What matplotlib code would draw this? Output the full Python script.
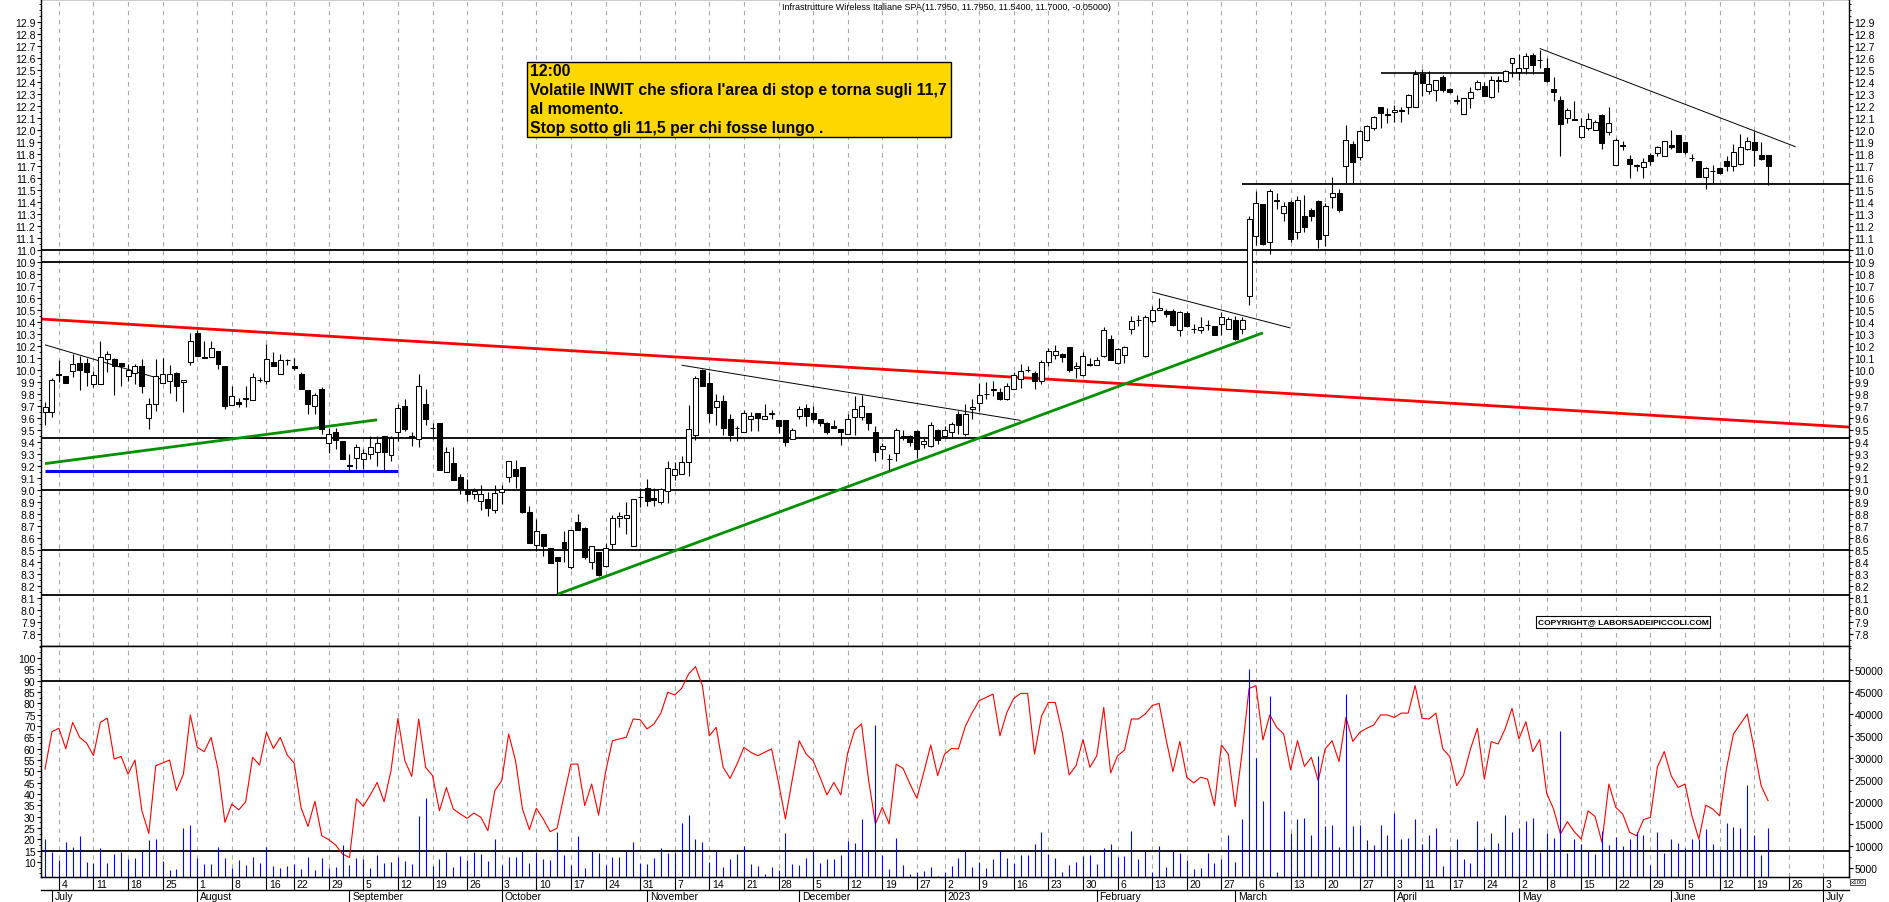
import matplotlib
matplotlib.use('Agg')
import matplotlib.pyplot as plt
from matplotlib import font_manager
from matplotlib.lines import Line2D
from matplotlib.patches import Rectangle
from matplotlib.ticker import MultipleLocator, FormatStrFormatter
from matplotlib.transforms import blended_transform_factory
import numpy as np
import pandas as pd

plt.rcParams['font.family'] = ['Liberation Sans', 'DejaVu Sans']

# daily candles 30 Jun 2022 - 21 Jun 2023, one line per week
opens = [
    9.65, 9.65,
    9.965, 9.95, 9.99, 10.06, 10.06,
    9.88, 9.88, 10.09, 10.09, 10.055,
    9.95, 9.975, 10.03, 9.60, 9.72,
    9.89, 9.91, 9.975, 9.90, 10.07,
    10.31, 10.11, 10.11, 10.16, 10.03,
    9.71, 9.73, 9.76, 9.75, 9.92,
    9.91, 10.07, 9.97, 10.085,
    10.03, 9.97, 9.83, 9.70, 9.84,
    9.39, 9.48, 9.41, 9.205, 9.27,
    9.26, 9.30, 9.32, 9.45, 9.29,
    9.48, 9.70, 9.45, 9.425, 9.72,
    9.52, 9.56, 9.15, 9.225, 9.11,
    8.99, 8.97, 8.91, 8.925, 8.83,
    8.985, 9.11, 9.175, 9.19, 8.82,
    8.54, 8.63, 8.52, 8.445, 8.565,
    8.355, 8.735, 8.68, 8.40, 8.48,
    8.37, 8.55, 8.77, 8.765, 8.535,
    8.94, 9.015, 8.93, 8.90, 8.995,
    9.125, 9.135, 9.235, 9.46, 10.00,
    9.89, 9.69, 9.74, 9.59, 9.52,
    9.48, 9.59, 9.64, 9.59, 9.635,
    9.585, 9.585, 9.425, 9.62, 9.68,
    9.64, 9.59, 9.56, 9.53, 9.51,
    9.465, 9.605, 9.605, 9.645, 9.485,
    9.345, 9.255, 9.31, 9.45, 9.45,
    9.49, 9.38, 9.37, 9.50,
    9.45, 9.48, 9.63, 9.47, 9.675,
    9.725, 9.80, 9.835, 9.815, 9.76,
    9.845, 9.925, 10.00, 9.975, 9.905,
    10.07, 10.125, 10.13, 10.19, 10.015,
    9.96, 10.045, 10.045, 10.115, 10.26,
    10.06, 10.125, 10.345, 10.42, 10.115,
    10.405, 10.50, 10.495, 10.495, 10.33,
    10.475, 10.34, 10.33, 10.375, 10.365,
    10.385, 10.345, 10.415, 10.345, 10.62,
    11.12, 11.38, 11.07, 11.405, 11.31,
    11.40, 11.15, 11.28, 11.335, 11.405,
    11.125, 11.44, 11.475, 11.70, 11.88,
    11.775, 11.915, 12.015, 12.19, 12.13,
    12.15, 12.165, 12.19, 12.19,
    12.465, 12.325, 12.33, 12.445,
    12.345, 12.25, 12.135, 12.265, 12.34,
    12.37, 12.275, 12.415, 12.405, 12.555,
    12.48, 12.52, 12.625, 12.585,
    12.515, 12.34, 12.25, 12.10, 12.09,
    11.94, 12.015, 12.00, 12.125, 11.98,
    11.71, 11.875, 11.76, 11.705, 11.695,
    11.79, 11.805, 11.785, 11.875, 11.96,
    11.90, 11.77, 11.74, 11.605, 11.655,
    11.68, 11.74, 11.70, 11.715, 11.84,
    11.90, 11.79, 11.795,
]
highs = [
    9.73, 9.93,
    10.08, 9.95, 10.13, 10.12, 10.10,
    9.99, 10.24, 10.16, 10.10, 10.06,
    10.05, 10.05, 10.09, 9.77, 10.09,
    10.10, 10.04, 9.98, 9.92, 10.31,
    10.33, 10.24, 10.24, 10.16, 10.03,
    9.87, 9.77, 9.87, 9.975, 9.94,
    10.22, 10.15, 10.13, 10.09,
    10.10, 9.98, 9.83, 9.81, 9.86,
    9.52, 9.52, 9.41, 9.30, 9.38,
    9.34, 9.45, 9.45, 9.45, 9.45,
    9.72, 9.76, 9.48, 9.97, 9.84,
    9.56, 9.56, 9.36, 9.36, 9.13,
    9.09, 9.02, 9.04, 8.98, 9.04,
    9.04, 9.245, 9.25, 9.19, 8.87,
    8.76, 8.635, 8.52, 8.445, 8.66,
    8.67, 8.80, 8.69, 8.53, 8.48,
    8.56, 8.79, 8.815, 8.90, 8.925,
    9.02, 9.09, 9.02, 9.015, 9.245,
    9.23, 9.285, 9.71, 9.95, 10.01,
    9.98, 9.80, 9.795, 9.635, 9.53,
    9.67, 9.65, 9.64, 9.72, 9.67,
    9.585, 9.585, 9.515, 9.70, 9.72,
    9.70, 9.59, 9.57, 9.58, 9.51,
    9.635, 9.78, 9.79, 9.645, 9.53,
    9.39, 9.30, 9.52, 9.50, 9.46,
    9.50, 9.44, 9.57, 9.51,
    9.53, 9.57, 9.66, 9.72, 9.76,
    9.89, 9.90, 9.91, 9.85, 9.89,
    9.98, 10.05, 10.03, 9.99, 10.08,
    10.18, 10.21, 10.14, 10.19, 10.07,
    10.15, 10.10, 10.11, 10.36, 10.29,
    10.18, 10.20, 10.45, 10.46, 10.46,
    10.53, 10.60, 10.51, 10.51, 10.49,
    10.49, 10.38, 10.44, 10.42, 10.37,
    10.48, 10.44, 10.45, 10.44, 11.28,
    11.49, 11.38, 11.51, 11.475, 11.40,
    11.42, 11.45, 11.46, 11.35, 11.42,
    11.39, 11.61, 11.51, 12.04, 11.91,
    12.00, 12.04, 12.12, 12.19, 12.18,
    12.21, 12.19, 12.30, 12.50,
    12.51, 12.49, 12.42, 12.46,
    12.35, 12.29, 12.27, 12.36, 12.42,
    12.40, 12.45, 12.45, 12.50, 12.60,
    12.63, 12.64, 12.64, 12.67,
    12.60, 12.44, 12.28, 12.18, 12.24,
    12.10, 12.14, 12.08, 12.13, 12.19,
    11.93, 11.91, 11.79, 11.72, 11.77,
    11.81, 11.87, 11.91, 12.00, 11.96,
    11.90, 11.80, 11.74, 11.69, 11.71,
    11.69, 11.78, 11.88, 11.97, 11.94,
    11.99, 11.90, 11.795,
]
lows = [
    9.54, 9.61,
    9.90, 9.89, 9.94, 9.83, 9.87,
    9.86, 9.88, 9.98, 9.79, 9.87,
    9.91, 9.88, 9.81, 9.51, 9.66,
    9.89, 9.81, 9.74, 9.65, 10.04,
    10.12, 10.10, 10.11, 10.01, 9.675,
    9.71, 9.69, 9.69, 9.75, 9.90,
    9.88, 10.035, 9.97, 10.04,
    10.00, 9.84, 9.63, 9.63, 9.47,
    9.31, 9.34, 9.26, 9.15, 9.175,
    9.175, 9.26, 9.20, 9.16, 9.24,
    9.41, 9.49, 9.37, 9.36, 9.54,
    9.425, 9.17, 9.15, 9.08, 8.97,
    8.91, 8.925, 8.83, 8.78, 8.81,
    8.88, 9.07, 9.02, 8.81, 8.555,
    8.49, 8.45, 8.39, 8.13, 8.40,
    8.34, 8.67, 8.425, 8.34, 8.285,
    8.355, 8.50, 8.69, 8.635, 8.535,
    8.855, 8.865, 8.865, 8.885, 8.89,
    9.08, 9.135, 9.115, 9.42, 9.865,
    9.565, 9.54, 9.455, 9.41, 9.41,
    9.48, 9.495, 9.495, 9.59, 9.59,
    9.475, 9.37, 9.425, 9.59, 9.53,
    9.57, 9.53, 9.465, 9.515, 9.375,
    9.465, 9.455, 9.58, 9.50, 9.245,
    9.255, 9.17, 9.24, 9.42, 9.37,
    9.27, 9.35, 9.36, 9.38,
    9.43, 9.43, 9.47, 9.45, 9.59,
    9.66, 9.76, 9.78, 9.75, 9.75,
    9.84, 9.85, 9.98, 9.84, 9.88,
    10.03, 10.09, 10.07, 9.98, 9.93,
    9.95, 10.03, 10.04, 10.11, 10.08,
    10.05, 10.06, 10.30, 10.37, 10.11,
    10.39, 10.50, 10.44, 10.37, 10.28,
    10.36, 10.31, 10.31, 10.33, 10.29,
    10.29, 10.34, 10.25, 10.30, 10.54,
    11.04, 11.04, 10.97, 11.34, 11.24,
    11.07, 11.09, 11.15, 11.24, 11.02,
    11.03, 11.35, 11.32, 11.56, 11.56,
    11.75, 11.91, 12.00, 12.02, 12.06,
    12.07, 12.07, 12.13, 12.19,
    12.28, 12.30, 12.24, 12.32,
    12.31, 12.22, 12.13, 12.18, 12.33,
    12.28, 12.27, 12.32, 12.40, 12.44,
    12.42, 12.47, 12.47, 12.52,
    12.40, 12.24, 11.78, 12.06, 12.08,
    11.93, 12.00, 12.00, 11.84, 11.96,
    11.71, 11.83, 11.60, 11.66, 11.60,
    11.71, 11.78, 11.78, 11.84, 11.82,
    11.80, 11.74, 11.61, 11.51, 11.56,
    11.63, 11.66, 11.66, 11.71, 11.83,
    11.70, 11.75, 11.54,
]
closes = [
    9.69, 9.92,
    9.96, 9.89, 10.05, 10.00, 9.98,
    9.96, 10.11, 10.13, 10.03, 10.035,
    10.00, 10.03, 9.87, 9.72, 9.95,
    9.97, 9.97, 9.87, 9.92, 10.24,
    10.12, 10.10, 10.18, 10.05, 9.70,
    9.78, 9.72, 9.77, 9.94, 9.915,
    10.09, 10.035, 10.085, 10.08,
    10.02, 9.84, 9.72, 9.79, 9.51,
    9.47, 9.42, 9.26, 9.20, 9.36,
    9.31, 9.36, 9.39, 9.32, 9.43,
    9.68, 9.51, 9.43, 9.87, 9.59,
    9.515, 9.17, 9.32, 9.08, 9.01,
    8.97, 8.99, 8.97, 8.85, 8.975,
    9.01, 9.24, 9.12, 8.82, 8.555,
    8.66, 8.53, 8.39, 8.405, 8.515,
    8.67, 8.67, 8.44, 8.53, 8.29,
    8.515, 8.77, 8.78, 8.79, 8.925,
    8.94, 8.905, 8.92, 9.01, 9.185,
    9.175, 9.23, 9.51, 9.93, 9.865,
    9.64, 9.74, 9.52, 9.455, 9.515,
    9.64, 9.62, 9.60, 9.615, 9.64,
    9.535, 9.40, 9.50, 9.675, 9.615,
    9.59, 9.56, 9.485, 9.52, 9.48,
    9.59, 9.675, 9.70, 9.56, 9.32,
    9.37, 9.255, 9.50, 9.44, 9.40,
    9.34, 9.41, 9.54, 9.42,
    9.50, 9.55, 9.54, 9.63, 9.69,
    9.79, 9.80, 9.84, 9.76, 9.865,
    9.96, 9.995, 10.00, 9.905, 10.07,
    10.155, 10.16, 10.11, 10.00, 10.03,
    10.115, 10.05, 10.08, 10.33, 10.085,
    10.175, 10.195, 10.41, 10.42, 10.445,
    10.50, 10.52, 10.465, 10.375, 10.48,
    10.37, 10.34, 10.36, 10.375, 10.295,
    10.44, 10.425, 10.26, 10.415, 11.26,
    11.39, 11.05, 11.49, 11.42, 11.37,
    11.09, 11.42, 11.195, 11.28, 11.09,
    11.37, 11.475, 11.33, 11.92, 11.73,
    11.99, 12.03, 12.11, 12.14, 12.125,
    12.165, 12.16, 12.295, 12.465,
    12.39, 12.38, 12.415, 12.33,
    12.315, 12.245, 12.265, 12.32, 12.40,
    12.28, 12.415, 12.41, 12.495, 12.60,
    12.52, 12.615, 12.54, 12.58,
    12.405, 12.315, 12.05, 12.165, 12.085,
    12.03, 12.09, 12.07, 11.89, 12.055,
    11.92, 11.87, 11.72, 11.70, 11.735,
    11.74, 11.855, 11.905, 11.855, 11.82,
    11.82, 11.765, 11.61, 11.68, 11.66,
    11.64, 11.70, 11.815, 11.855, 11.905,
    11.83, 11.76, 11.70,
]

# lower panel: oscillator (left scale) and volume (right scale, x100)
oscillator = [
    51, 67.5, 69, 60, 71.6, 65, 62.5, 57, 71.6, 73.5,
    55.4, 56.6, 48.8, 55, 32.6, 22.6, 52.5, 53.7, 55, 41.5,
    48.8, 74.9, 60.6, 58.7, 65, 51, 27.5, 35.6, 33, 36.6,
    56.2, 52.8, 67.2, 60.1, 65, 57.2, 53.7, 34, 25.7, 36.8,
    21.6, 19.9, 17.5, 13.5, 12, 37.9, 34.6, 39.6, 45.1, 36.6,
    50.3, 73.4, 54.7, 47.8, 73.1, 51.8, 48.1, 32.6, 42.9, 33.4,
    31.2, 29.3, 31.6, 29.7, 23.8, 41.5, 45.9, 66.5, 54.7, 33.4,
    24.3, 33.7, 29, 23.4, 24.9, 39.3, 53.2, 53.2, 34.9, 44.4,
    30.7, 49.6, 63.5, 64.3, 65, 73.1, 72.8, 68.7, 70.9, 75.7,
    84.9, 83.7, 86.6, 92.9, 96.2, 87.8, 65.7, 69.4, 51.8, 46.9,
    53.2, 60.6, 58.4, 56.9, 58.4, 59.9, 45.1, 29, 46.6, 63.5,
    57.6, 54.7, 47.4, 39.6, 45.1, 39.6, 58.1, 68.2, 70.9, 46.6,
    26.8, 34.1, 26.8, 53.2, 51.3, 44.4, 38.1, 49.6, 61.6, 48.1,
    57.6, 60.1, 59.9, 69.9, 76, 81.2, 82.6, 84.1, 65.7, 76,
    82.2, 84.4, 84.4, 57.6, 74.3, 80.4, 80.4, 67.2, 48.4, 52.5,
    64, 51.8, 56.9, 78.2, 49.3, 56.9, 59.4, 73.1, 73.1, 75.3,
    79, 80, 64.3, 49.9, 63.2, 47.4, 44.9, 47.4, 46.6, 34.9,
    61.6, 57.6, 34.4, 58.4, 86.6, 87.8, 63.8, 74.9, 69.4, 66.5,
    50.7, 63.5, 52.2, 56.2, 45.9, 59.9, 63.5, 54.3, 73.8, 63.2,
    67.2, 69, 70.4, 74.9, 74.9, 73.8, 75.7, 75.7, 87.8, 73.4,
    73.1, 75.7, 59.9, 56.6, 43.7, 48.4, 59.9, 69, 46.6, 63.1,
    62.1, 68.7, 77.8, 64.3, 71.9, 58.7, 64, 40.4, 33.4, 22.4,
    27.8, 23.4, 20.1, 32.6, 30.1, 18.7, 44.4, 34.1, 31.2, 23.1,
    21.6, 28.7, 29.7, 51.8, 58.7, 48.1, 42.9, 44.4, 30.4, 20.1,
    35.1, 33.4, 30.4, 51.3, 66.5, 70.9, 75.3, 59.9, 43.7, 37.1,
]
volume = [
    11700, 8600, 6800, 10900, 9800, 12300, 6400, 6100, 9600, 6100,
    8100, 8700, 7000, 7300, 9200, 11400, 11500, 6500, 4500, 4700,
    14100, 14800, 7300, 5800, 5800, 9800, 7300, 5000, 6800, 5700,
    7500, 6100, 9800, 5500, 4900, 5500, 5800, 4800, 7500, 4500,
    7300, 5100, 5200, 10200, 5600, 7300, 7000, 5000, 7900, 6100,
    6400, 7500, 6700, 5800, 16800, 20900, 5500, 7000, 8600, 5300,
    7700, 6800, 8600, 8100, 6600, 11700, 5600, 7500, 7500, 9200,
    6100, 8600, 7000, 6800, 13200, 7900, 5700, 12300, 5000, 8900,
    8300, 5600, 7500, 7500, 9200, 10900, 6100, 5800, 7200, 9600,
    8500, 8700, 15300, 17000, 11700, 10900, 6400, 9100, 5300, 7000,
    8100, 10000, 5800, 5500, 3700, 5200, 4500, 12900, 5800, 5700,
    7300, 9200, 6100, 7000, 7100, 7900, 11100, 10600, 16100, 9200,
    37600, 7900, 4800, 11900, 5600, 3700, 4100, 4300, 5200, 3200,
    4100, 5500, 7300, 9100, 5200, 6400, 5100, 7100, 9100, 7300,
    6200, 7900, 7900, 10400, 13200, 8100, 7200, 4000, 5600, 6400,
    7700, 7900, 5800, 9600, 10400, 7500, 7700, 13400, 7000, 8800,
    4100, 10000, 5200, 9100, 8500, 6800, 4800, 5100, 8300, 6100,
    7100, 12600, 6400, 16100, 50300, 30100, 20200, 44200, 4100, 18000,
    12900, 16100, 16400, 12600, 30500, 14500, 14700, 9800, 44500, 14500,
    14800, 11400, 10200, 14700, 12400, 17600, 11500, 11900, 16100, 10400,
    12600, 14200, 5500, 8900, 11500, 7000, 6100, 15700, 9600, 12900,
    10600, 17000, 13200, 14200, 15700, 16300, 8600, 13000, 11900, 36100,
    8500, 11500, 10400, 9100, 8100, 13300, 10200, 12100, 10000, 11500,
    13200, 12600, 5600, 13200, 8500, 11500, 10600, 9600, 11500, 11700,
    13800, 10400, 9100, 15200, 14400, 14000, 23800, 12400, 8000, 14000,
]

holidays = ['2022-08-15', '2022-12-26', '2023-04-07', '2023-04-10', '2023-05-01']
month_names = ['2023', 'February', 'March', 'April', 'May', 'June', 'July',
               'August', 'September', 'October', 'November', 'December']

levels = [11.0, 10.9, 9.43, 9.0, 8.5, 8.125]
support_level = ('2023-03-02', 11.55)
red_line = ('2022-06-30', 10.423, '2023-07-06', 9.527)
trend_lines = [
    # start, price, end, price, colour, width
    ('2022-06-30', 10.21, '2022-07-25', 9.92, 'black', 0.7),
    ('2022-06-30', 9.22, '2022-09-07', 9.585, '#009000', 2.0),
    ('2022-06-30', 9.158, '2022-09-12', 9.158, '#0000ff', 2.2),
    ('2022-11-08', 10.04, '2023-01-17', 9.58, 'black', 0.7),
    ('2022-10-13', 8.13, '2023-03-07', 10.31, '#009000', 2.0),
    ('2023-02-13', 10.65, '2023-03-13', 10.35, 'black', 0.7),
    ('2023-03-30', 12.475, '2023-05-08', 12.475, 'black', 1.2),
    ('2023-05-05', 12.68, '2023-06-27', 11.86, 'black', 0.7),
]
osc_levels = [90, 15]

title = 'Infrastrutture Wireless Italiane SPA(11.7950, 11.7950, 11.5400, 11.7000, -0.05000)'
note_lines = ['12:00',
              "Volatile INWIT che sfiora l'area di stop e torna sugli 11,7",
              'al momento.',
              'Stop sotto gli 11,5 per chi fosse lungo .']
copyright_text = 'COPYRIGHT@ LABORSADEIPICCOLI.COM'

# trading calendar
days = pd.bdate_range('2022-06-30', '2023-07-07')
days = days[~days.isin(pd.to_datetime(holidays))]
pos = {d.strftime('%Y-%m-%d'): i for i, d in enumerate(days)}
x = np.arange(len(opens))
o = np.array(opens); h = np.array(highs); l = np.array(lows); c = np.array(closes)

week_starts = [i for i in range(1, len(days))
               if days[i].isocalendar()[1] != days[i - 1].isocalendar()[1]]
month_starts = [i for i in range(1, len(days)) if days[i].month != days[i - 1].month]

W, H = 1890, 903
def box(x0, y0, x1, y1):
    return [x0 / W, 1 - y1 / H, (x1 - x0) / W, (y1 - y0) / H]

fig = plt.figure(figsize=(W / 100, H / 100), dpi=100)
ax = fig.add_axes(box(41, 0, 1849, 647))
ax2 = fig.add_axes(box(41, 647, 1849, 878), sharex=ax)
xmax = 260.7
ax.set_xlim(-0.58, xmax)

for a in (ax, ax2):
    for i in week_starts:
        a.axvline(i, color='#a8a8a8', lw=0.8, ls=(0, (4, 4)), zorder=0)
    for s in a.spines.values():
        s.set_linewidth(1.0)

# price panel
for lv in levels:
    ax.axhline(lv, color='black', lw=1.3, zorder=1)
ax.hlines(support_level[1], pos[support_level[0]], xmax, color='black', lw=1.3, zorder=1)
ax.axline((pos[red_line[0]], red_line[1]), (pos[red_line[2]], red_line[3]),
          color='#ff0000', lw=2.0, zorder=2)
for d0, p0, d1, p1, col, lw in trend_lines:
    ax.plot([pos[d0], pos[d1]], [p0, p1], color=col, lw=lw, zorder=2,
            solid_capstyle='butt')

up = c >= o
ax.vlines(x, l, h, color='black', lw=0.8, zorder=3)
lo_b = np.minimum(o, c)
hgt = np.abs(c - o)
ax.bar(x[up], hgt[up], 0.72, bottom=lo_b[up], facecolor='white',
       edgecolor='black', lw=0.75, zorder=4)
ax.bar(x[~up], hgt[~up], 0.72, bottom=lo_b[~up], facecolor='black',
       edgecolor='black', lw=0.75, zorder=4)

ax.set_ylim(7.7, 13.092)
ax.yaxis.set_minor_locator(MultipleLocator(0.05))
ax.yaxis.set_major_formatter(FormatStrFormatter('%.1f'))
ax.set_yticks(np.round(np.arange(7.8, 12.95, 0.1), 1))
ax.tick_params(axis='y', which='both', left=True, right=True, labelleft=True,
               labelright=True, direction='out', labelsize=7.5, pad=1)
ax.tick_params(axis='y', which='major', length=3)
ax.tick_params(axis='y', which='minor', length=1.5)
ax.tick_params(axis='x', which='both', bottom=False, labelbottom=False)

# lower panel
ax2.plot(x, oscillator, color='#ff0000', lw=0.8, zorder=3)
for lv in osc_levels:
    ax2.axhline(lv, color='black', lw=1.3, zorder=2)
ax2.set_ylim(3.4, 105.3)
ax2.set_yticks(np.arange(10, 101, 5))
ax2.yaxis.set_minor_locator(MultipleLocator(2.5))
ax2.tick_params(axis='y', which='both', direction='out', labelsize=7.5, pad=1)
ax2.tick_params(axis='y', which='major', length=3)
ax2.tick_params(axis='y', which='minor', length=1.5)
ax2.tick_params(axis='x', which='both', bottom=False, labelbottom=False)

axv = ax2.twinx()
axv.vlines(x, 0, volume, color='#0000ff', lw=0.8, zorder=2)
axv.set_ylim(2950, 55450)
axv.set_yticks(np.arange(5000, 50001, 5000))
axv.yaxis.set_minor_locator(MultipleLocator(2500))
axv.tick_params(axis='y', which='both', direction='out', labelsize=7.5, pad=1)
axv.tick_params(axis='y', which='major', length=3)
axv.tick_params(axis='y', which='minor', length=1.5)

# date rows under the lower panel
tr = blended_transform_factory(ax2.transData, fig.transFigure)
y_top, y_mid = 1 - 878 / H, 1 - 891 / H
fig.add_artist(Line2D([41 / W, 1849 / W], [y_mid, y_mid], color='black', lw=1.0))
for i in week_starts:
    if i > xmax:
        continue
    ax2.add_line(Line2D([i, i], [y_top, y_mid], transform=tr, color='black',
                        lw=0.8, clip_on=False))
    ax2.text(i + 0.35, 1 - 885 / H, str(days[i].day), transform=tr, fontsize=7.5,
             ha='left', va='center', clip_on=False)
for i in month_starts:
    if i > xmax:
        continue
    ax2.add_line(Line2D([i, i], [y_mid, 0], transform=tr, color='black',
                        lw=0.8, clip_on=False))
    ax2.text(i + 0.4, 1 - 897.5 / H, month_names[days[i].month - 1], transform=tr,
             fontsize=7.5, ha='left', va='center', clip_on=False)
fig.text(1851 / W, 1 - 883 / H, 'x100', fontsize=4.5, ha='left', va='center',
         bbox=dict(facecolor='white', edgecolor='black', lw=0.5, pad=0.5))

# title and notes
fig.text(946 / W, 1 - 7 / H, title, fontsize=6.5, ha='center', va='center')

narrow = any(f.name == 'Liberation Sans Narrow' for f in font_manager.fontManager.ttflist)
note_font = ['Liberation Sans Narrow', 'Liberation Sans'] if narrow else ['Liberation Sans']
note_size = 13.5 if narrow else 11.3
fig.add_artist(Rectangle((527 / W, 1 - 138 / H), (951 - 527) / W, 75 / H,
                         transform=fig.transFigure, facecolor='#ffd700',
                         edgecolor='black', lw=1.0, zorder=10))
for k, line in enumerate(note_lines):
    fig.text(530 / W, 1 - (71 + 19.3 * k) / H, line, fontsize=note_size,
             family=note_font, weight='bold', ha='left', va='center', zorder=11)

fig.text(1623 / W, 1 - 623 / H, copyright_text, fontsize=6, weight='bold',
         ha='center', va='center', zorder=11,
         bbox=dict(facecolor='white', edgecolor='black', lw=0.8, pad=1.5))

fig.savefig('out.png', dpi=100, facecolor='white')
